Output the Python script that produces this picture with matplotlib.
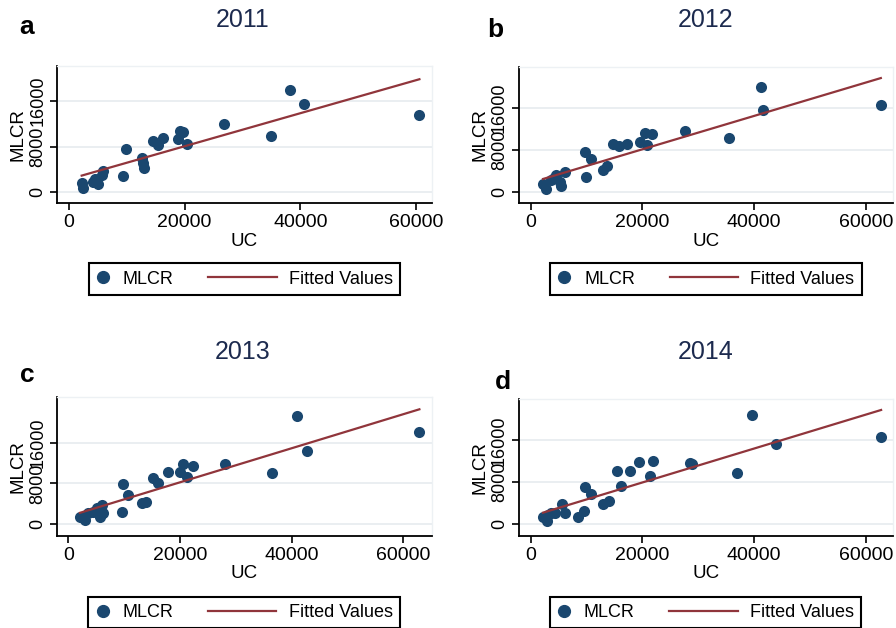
import matplotlib
matplotlib.use('Agg')
import matplotlib.pyplot as plt
import numpy as np
from matplotlib.lines import Line2D
from matplotlib.legend_handler import HandlerBase

plt.rcParams['font.family'] = ['Liberation Sans', 'DejaVu Sans']

# values (UC on x, MLCR on y)
years = ['2011', '2012', '2013', '2014']
letters = ['a', 'b', 'c', 'd']

uc_2011 = [2195, 2470, 4095, 4495, 5065, 5650, 5930, 9280, 9850, 12565, 12845, 13020,
           14470, 15440, 16200, 18790, 19190, 19700, 20460, 26800, 34870, 38210, 40575, 60575]
mlcr_2011 = [1575, 805, 1855, 2330, 1400, 3030, 3730, 2910, 7530, 6060, 5075, 4310,
             8980, 8280, 9450, 9280, 10745, 10500, 8470, 11910, 9930, 17930, 15530, 13490]

uc_2012 = [2210, 2805, 3700, 4600, 5190, 5490, 6090, 4100, 9850, 9790, 10745, 13015, 13670,
           14745, 15760, 17250, 19640, 20420, 20900, 21730, 27580, 35580, 41190, 41670, 62690]
mlcr_2012 = [1575, 693, 2330, 3275, 2015, 1260, 3905, 2700, 2960, 7560, 6235, 4220, 5040,
             9070, 8820, 9130, 9575, 11150, 8945, 11020, 11650, 10205, 19840, 15560, 16500]

uc_2013 = [2090, 2985, 3580, 4480, 5075, 5670, 5970, 6150, 9670, 9850, 10745, 13130, 13910,
           15220, 16000, 17910, 20000, 20475, 21310, 22270, 28060, 36420, 40900, 42800, 62865]
mlcr_2013 = [1500, 850, 2155, 2480, 3135, 1500, 3790, 2285, 2480, 7900, 5750, 4115, 4440,
             9140, 8165, 10190, 10320, 11820, 9210, 11490, 11820, 10120, 21220, 14370, 18020]

uc_2014 = [2210, 2930, 3110, 3705, 4420, 5615, 6215, 8485, 9560, 9800, 10755, 12965, 14040,
           15475, 16255, 17745, 19420, 21330, 21870, 28500, 28900, 36930, 39555, 43920, 62740]
mlcr_2014 = [1333, 700, 1780, 2095, 2220, 3810, 2095, 1460, 2540, 7175, 5780, 3875, 4510,
             10160, 7365, 10160, 11940, 9205, 12065, 11620, 11500, 9715, 20825, 15300, 16700]

# fitted line (intercept, slope) as drawn in each panel
fit_intercept = [2287, 1823, 1552, 1506]
fit_slope = [0.289, 0.3155, 0.3337, 0.3231]

uc_all = [uc_2011, uc_2012, uc_2013, uc_2014]
mlcr_all = [mlcr_2011, mlcr_2012, mlcr_2013, mlcr_2014]

xticks = [0, 20000, 40000, 60000]
yticks = [0, 8000, 16000]

navy = '#1a476f'
maroon = '#90353b'
grid_col = '#e6ebef'
title_col = '#1c2a4e'

W, H = 896, 628
# axes boxes in pixels: left, top, right, bottom
boxes = [(57.3, 66.0, 431.7, 203.3), (519.0, 66.7, 893.0, 203.3),
         (57.3, 397.3, 431.7, 536.0), (519.0, 399.3, 893.0, 536.0)]
xlims = [(-2020, 62700), (-2095, 64870), (-1970, 65070), (-2095, 64870)]
ylims = [(-1926, 22110), (-2080, 23750), (-2292, 24880), (-2229, 23810)]
title_pos = [(243, 20), (706, 20), (243, 352), (706, 352)]
letter_pos = [(27, 27), (495, 30), (27, 375), (503, 382)]
legend_pos = [(244.5, 279.2), (705.7, 279.0), (244.2, 612.5), (705.5, 612.5)]


class LongLineHandler(HandlerBase):
    # line that reaches back into the column gap, like the Stata legend key
    def __init__(self, extra):
        super().__init__()
        self.extra = extra

    def create_artists(self, legend, orig_handle, xdescent, ydescent, width, height, fontsize, trans):
        y = (height - ydescent) / 2
        line = Line2D([-xdescent - self.extra, width - xdescent], [y, y],
                      color=orig_handle.get_color(), linewidth=orig_handle.get_linewidth())
        line.set_transform(trans)
        return [line]


fig = plt.figure(figsize=(W / 100, H / 100), dpi=100)

for i in range(4):
    l, t, r, b = boxes[i]
    ax = fig.add_axes([l / W, 1 - b / H, (r - l) / W, (b - t) / H])
    x = np.array(uc_all[i])
    y = np.array(mlcr_all[i])

    ax.scatter(x, y, s=64, color=navy, zorder=3, linewidths=0)
    xx = np.array([x.min(), x.max()])
    ax.plot(xx, fit_intercept[i] + fit_slope[i] * xx, color=maroon, lw=1.6, zorder=4)

    ax.set_xlim(*xlims[i])
    ax.set_ylim(*ylims[i])
    ax.set_xticks(xticks)
    ax.set_yticks(yticks)
    ax.set_yticklabels([str(v) for v in yticks], rotation=90, va='center')
    ax.tick_params(length=5, width=1.2, pad=3, color='black')
    ax.tick_params(axis='x', labelsize=14)
    ax.tick_params(axis='y', labelsize=13)
    for yv in yticks:
        ax.axhline(yv, color=grid_col, lw=1.2, zorder=0)

    for side in ['left', 'bottom']:
        ax.spines[side].set_linewidth(1.3)
    for side in ['top', 'right']:
        ax.spines[side].set_color('#edf1f4')
        ax.spines[side].set_linewidth(1.0)

    ax.set_xlabel('UC', fontsize=13.5, labelpad=1)
    ax.set_ylabel('MLCR', fontsize=13.5, labelpad=2)

    fig.text(title_pos[i][0] / W, 1 - title_pos[i][1] / H, years[i], fontsize=18,
             color=title_col, ha='center', va='center')
    fig.text(letter_pos[i][0] / W, 1 - letter_pos[i][1] / H, letters[i], fontsize=19,
             fontweight='bold', ha='center', va='center')

    dot = Line2D([], [], marker='o', linestyle='none', markersize=8.5, color=navy)
    fitline = Line2D([], [], color=maroon, lw=1.6)
    leg = ax.legend([dot, fitline], ['MLCR', 'Fitted Values'], ncol=2, loc='center',
                    bbox_to_anchor=(legend_pos[i][0] / W, 1 - legend_pos[i][1] / H),
                    bbox_transform=fig.transFigure, fontsize=13, frameon=True,
                    fancybox=False, edgecolor='black', handlelength=0.8,
                    handletextpad=0.7, columnspacing=4.9, borderpad=0.4,
                    handler_map={fitline: LongLineHandler(38.7)})
    leg.get_frame().set_linewidth(1.5)
    leg.get_frame().set_alpha(None)

fig.savefig('out.png', dpi=100)
